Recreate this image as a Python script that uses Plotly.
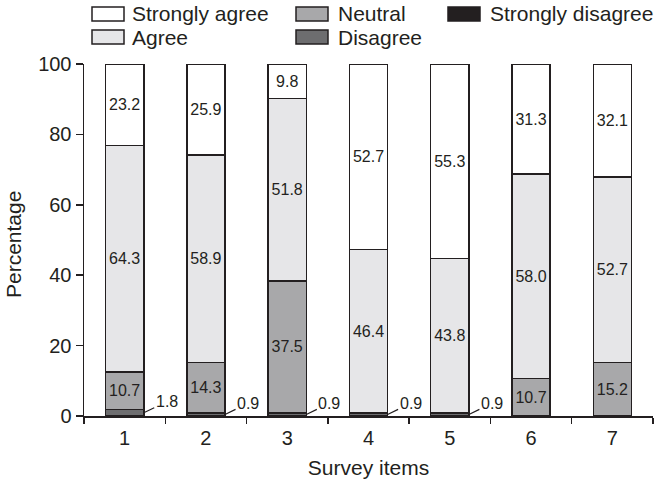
import plotly.graph_objects as go

# ---- data ----
items = ["1", "2", "3", "4", "5", "6", "7"]
strongly_disagree = [0, 0, 0, 0, 0, 0, 0]
disagree = [1.8, 0.9, 0.9, 0.9, 0.9, 0, 0]
neutral = [10.7, 14.3, 37.5, 0, 0, 10.7, 15.2]
agree = [64.3, 58.9, 51.8, 46.4, 43.8, 58.0, 52.7]
strongly_agree = [23.2, 25.9, 9.8, 52.7, 55.3, 31.3, 32.1]

series_names = ["Strongly disagree", "Disagree", "Neutral", "Agree", "Strongly agree"]
series_values = [strongly_disagree, disagree, neutral, agree, strongly_agree]
series_colors = ["#231f20", "#6d6d6f", "#a8a8aa", "#e6e6e8", "#ffffff"]

INK = "#231f20"
FONT = "Liberation Sans, Arial, sans-serif"
BAR_W = 0.47
SMALL = 5  # values below this are labelled outside with a leader line

# geometry (page body margin is removed in post_script)
W, H = 663, 488
L, T = 84, 64
PW, PH = 569, 352
R, B = W - L - PW, H - T - PH


def px_x(px):
    return (px - L) / PW


def px_y(py):
    return (T + PH - py) / PH


fig = go.Figure()
for name, vals, col in zip(series_names, series_values, series_colors):
    fig.add_trace(go.Bar(
        x=items,
        y=[v if v > 0 else None for v in vals],
        name=name,
        width=BAR_W,
        marker=dict(color=col, line=dict(color=INK, width=1.5)),
        text=[f"{v:.1f}" if v >= SMALL else "" for v in vals],
        textposition="inside",
        insidetextanchor="middle",
        textangle=0,
        insidetextfont=dict(family=FONT, size=16, color=INK),
        showlegend=False,
        hoverinfo="skip",
    ))

annotations = []
# small values: outside label with leader line
for i, item in enumerate(items):
    base = 0
    for vals in series_values:
        v = vals[i]
        if 0 < v < SMALL:
            annotations.append(dict(
                x=i + BAR_W / 2, y=base + v / 2, xref="x", yref="y",
                text=f"{v:.1f}", showarrow=True, arrowhead=0, arrowwidth=1.2,
                arrowcolor=INK, ax=23, ay=-11,
                font=dict(family=FONT, size=16, color=INK),
            ))
        base += v

# legend (drawn by hand to match the two-row, column-major layout)
legend_order = ["Strongly agree", "Agree", "Neutral", "Disagree", "Strongly disagree"]
col_box_x = [92, 296, 448]
col_text_x = [130, 336, 488]
row_box_y = [(7, 21), (30, 44)]
row_text_y = [14, 37]
shapes = []
for k, name in enumerate(legend_order):
    c, r = divmod(k, 2)
    col = series_colors[series_names.index(name)]
    x0 = col_box_x[c]
    y0, y1 = row_box_y[r]
    shapes.append(dict(type="rect", xref="paper", yref="paper",
                       x0=px_x(x0), x1=px_x(x0 + 32), y0=px_y(y1), y1=px_y(y0),
                       fillcolor=col, line=dict(color=INK, width=1.5)))
    annotations.append(dict(x=px_x(col_text_x[c]), y=px_y(row_text_y[r]),
                            xref="paper", yref="paper", xanchor="left", yanchor="middle",
                            text=name, showarrow=False,
                            font=dict(family=FONT, size=21, color=INK)))

# y-axis title placed as rotated text
annotations.append(dict(x=px_x(13), y=px_y(245), xref="paper", yref="paper",
                        xanchor="center", yanchor="middle", textangle=-90,
                        text="Percentage", showarrow=False,
                        font=dict(family=FONT, size=21, color=INK)))

fig.update_layout(
    barmode="stack",
    width=W, height=H,
    margin=dict(l=L, r=R, t=T, b=B, autoexpand=False),
    paper_bgcolor="white", plot_bgcolor="white",
    font=dict(family=FONT, size=20, color=INK),
    shapes=shapes,
    annotations=annotations,
    xaxis=dict(
        type="category", range=[-0.5, 6.5], tickson="boundaries", automargin=False,
        ticks="outside", ticklen=6, tickwidth=1.5, tickcolor=INK,
        showline=True, linecolor=INK, linewidth=1.5, showgrid=False,
        title=dict(text="Survey items", standoff=13, font=dict(size=21)),
        tickfont=dict(size=20), ticklabelstandoff=3,
    ),
    yaxis=dict(
        range=[0, 100], tickvals=[0, 20, 40, 60, 80, 100], automargin=False,
        ticks="outside", ticklen=7, tickwidth=1.5, tickcolor=INK,
        showline=True, linecolor=INK, linewidth=1.5, showgrid=False, zeroline=False,
        tickfont=dict(size=20),
    ),
)

fig.write_html(
    "out.html",
    config={"displayModeBar": False, "staticPlot": True},
    post_script="document.body.style.margin='0px';document.body.style.padding='0px';",
)
